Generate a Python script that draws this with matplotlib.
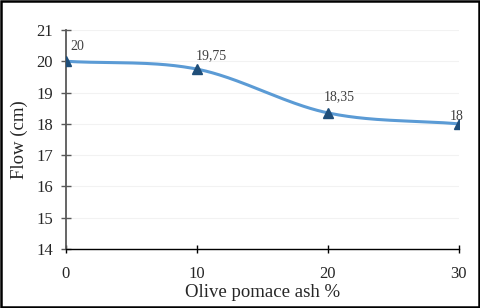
import numpy as np
import matplotlib.pyplot as plt
from matplotlib.patches import Rectangle

plt.rcParams['font.family'] = ['Liberation Serif', 'DejaVu Serif']

# data
ash = [0, 10, 20, 30]
flow = [20, 19.75, 18.35, 18]
labels = ['20', '19,75', '18,35', '18']


def smooth(xs, ys, n=60):
    # catmull-rom like excel smoothed line
    xs = np.asarray(xs, float)
    ys = np.asarray(ys, float)
    px = np.concatenate([[2 * xs[0] - xs[1]], xs, [2 * xs[-1] - xs[-2]]])
    py = np.concatenate([[2 * ys[0] - ys[1]], ys, [2 * ys[-1] - ys[-2]]])
    ox, oy = [], []
    t = np.linspace(0, 1, n)
    for i in range(1, len(px) - 2):
        p0, p1, p2, p3 = [np.array([px[j], py[j]]) for j in range(i - 1, i + 3)]
        c1 = p1 + (p2 - p0) / 6
        c2 = p2 - (p3 - p1) / 6
        b = ((1 - t) ** 3)[:, None] * p1 + (3 * (1 - t) ** 2 * t)[:, None] * c1 \
            + (3 * (1 - t) * t ** 2)[:, None] * c2 + (t ** 3)[:, None] * p2
        ox.extend(b[:, 0])
        oy.extend(b[:, 1])
    return ox, oy


fig = plt.figure(figsize=(4.8, 3.08), dpi=100)
ax = fig.add_axes([0.1375, 0.1916, 0.8185, 0.711])

sx, sy = smooth(ash, flow)
ax.plot(sx, sy, color='#5B9BD5', lw=2.2, zorder=2)
ax.plot(ash, flow, ls='none', marker='^', ms=7, color='#1F4E79', zorder=3)

offs = [(8, 11), (10, 10), (8, 11.5), (-1.5, 5)]
for x, y, s, o in zip(ash, flow, labels, offs):
    ax.annotate(s, (x, y), xytext=o, textcoords='offset points',
                ha='center', va='center', fontsize=10, color='#404040')

ax.set_xlim(0, 30)
ax.set_ylim(14, 21)
ax.set_xticks([0, 10, 20, 30])
ax.set_yticks(range(14, 22))
for s in ['top', 'right']:
    ax.spines[s].set_visible(False)
ax.spines['left'].set_color('#595959')
ax.spines['left'].set_linewidth(1.3)
ax.spines['bottom'].set_color('black')
ax.spines['bottom'].set_linewidth(1.0)
ax.tick_params(axis='y', direction='inout', length=7, width=1, color='#595959',
               labelsize=12, labelcolor='#262626', pad=6)
ax.tick_params(axis='x', direction='inout', length=6, width=1, color='black',
               labelsize=12, labelcolor='#262626', pad=9)
ax.grid(axis='y', color='#f2f2f2', lw=0.8)
ax.set_axisbelow(True)
ax.set_ylabel('Flow (cm)', fontsize=13.5, color='#262626', labelpad=6)
ax.set_xlabel('Olive pomace ash %', fontsize=13.5, color='#262626', labelpad=2)
for lbl in ax.get_xticklabels() + ax.get_yticklabels():
    lbl.set_clip_on(False)

fig.patches.append(Rectangle((0.002, 0.003), 0.996, 0.994, transform=fig.transFigure,
                             fill=False, edgecolor='black', lw=1.8))

fig.savefig('out.png', dpi=100)
